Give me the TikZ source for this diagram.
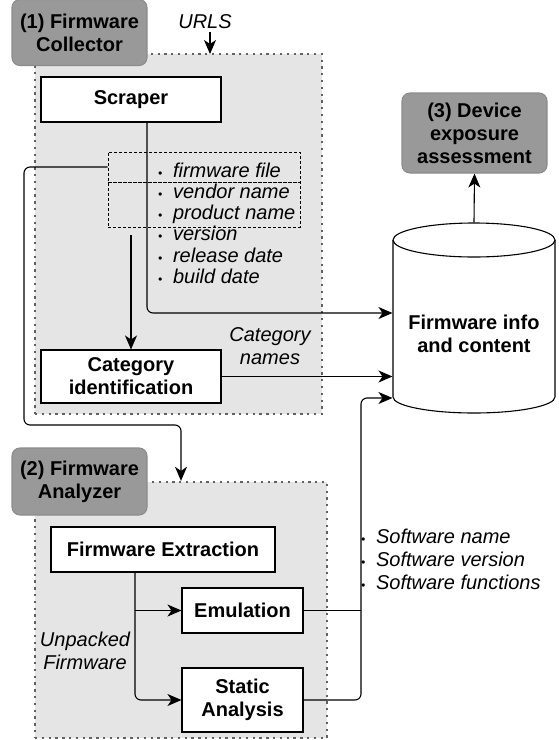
\documentclass[tikz,border=0pt]{standalone}
\usepackage{fontspec}
\setmainfont{Liberation Sans}
\usetikzlibrary{arrows.meta,positioning}

\newcommand{\blt}{\makebox[15pt][l]{\fontsize{12}{12}\selectfont\textbullet}}

\begin{document}
\begin{tikzpicture}[
    x = 1pt, y = -1pt, % pixel grid, y runs downwards
    > = {Stealth[length=14pt,width=12pt,inset=4pt]}, % arrow head style
    font = \fontsize{20}{23}\selectfont,
    line width = 1.1pt % line style
    ]

    \tikzset{
    group/.style = {draw = black!62, fill = black!10, line width = 2.3pt,
        dash pattern = on 2.3pt off 4.5pt, inner sep = 0pt},
    tag/.style = {fill = black!40, draw = black!45, rounded corners = 8pt,
        align = center, inner sep = 0pt,
        font = \fontsize{20}{23}\selectfont\bfseries},
    box/.style = {draw, fill = white, align = center, inner sep = 0pt,
        font = \fontsize{20}{23}\selectfont\bfseries},
    dbox/.style = {draw, line width = 0.9pt, dash pattern = on 3pt off 2pt,
        inner sep = 0pt},
    note/.style = {align = center, font = \fontsize{20}{23}\selectfont\itshape},
    conn/.style = {->, rounded corners = 6pt}
    }

    \useasboundingbox (0,0) rectangle (559,740);

    % (1) collector
    \node[group, minimum width = 287pt, minimum height = 360pt] (col) at (178.5,234) {};
    \node[tag, minimum width = 135pt, minimum height = 66pt] (coltag) at (79.5,32.5)
        {(1) Firmware\\Collector};
    \node[note, anchor = base] (urls) at (205,28) {URLS};
    \coordinate (urlin) at (210,54);
    \node[box, minimum width = 180pt, minimum height = 45pt] (scraper) at (131,99.5) {Scraper};
    \node[dbox, minimum width = 192pt, minimum height = 30pt] (ff) at (204,167) {};
    \node[dbox, minimum width = 192pt, minimum height = 45pt] (vp) at (204,204.5) {};
    \foreach \t [count = \i] in {firmware file, vendor name, product name,
        version, release date, build date}
        \node[note, anchor = base west, inner sep = 0pt] (meta\i)
            at (157.5, 156.5 + 21.1*\i) {\blt\t};
    \node[box, minimum width = 180pt, minimum height = 53pt] (cat) at (131,376.5)
        {Category\\identification};
    \node[note] (catnames) at (270,346.5) {Category\\names};

    % database
    \node[minimum width = 162pt, minimum height = 190pt, inner sep = 0pt] (db) at (474,318) {};
    \draw[fill = white] (393,240) -- (393,397)
        .. controls (393,405.8) and (429.3,413) .. (474,413)
        .. controls (518.7,413) and (555,405.8) .. (555,397) -- (555,240);
    \draw[fill = white] (474,240) ellipse [x radius = 81pt, y radius = 17pt];
    \node[box, draw = none, fill = none] (dbtxt) at (474,334) {Firmware info\\and content};
    \node[tag, minimum width = 145pt, minimum height = 80pt] (assess) at (474.5,133)
        {(3) Device\\exposure\\assessment};

    % (2) analyzer
    \node[group, minimum width = 292pt, minimum height = 256pt] (ana) at (181,610) {};
    \node[tag, minimum width = 135pt, minimum height = 67pt] (anatag) at (79.5,481.5)
        {(2) Firmware\\Analyzer};
    \node[box, minimum width = 224pt, minimum height = 45pt] (fx) at (163,549.5)
        {Firmware Extraction};
    \node[box, minimum width = 121pt, minimum height = 45pt] (emu) at (242.5,610.5) {Emulation};
    \node[box, minimum width = 121pt, minimum height = 64pt] (static) at (242.5,700)
        {Static\\Analysis};
    \node[note] (unpacked) at (85,651) {Unpacked\\Firmware};
    \foreach \t [count = \i] in {Software name, Software version, Software functions}
        \node[note, anchor = base west, inner sep = 0pt] (sw\i)
            at (360.5, 520 + 23*\i) {\blt\t};
    \coordinate (bend) at (24,425);
    \coordinate (sw) at (361,398);

    % connectors
    \draw[->] (urls.south -| urlin) -- (urlin);
    \draw[conn] ([xshift = 16pt]scraper.south) |- ([yshift = 5pt]db.west);
    \draw[conn] (ff.west) -| (bend) -| (ana.north);
    \draw[->, shorten <= 8pt] (cat.north |- vp.south) -- (cat.north);
    \draw[->] (cat.east) -- (cat.east -| db.west);
    \draw[->] (db.north) -- (assess.south);
    \draw[conn] ([xshift = -28pt]fx.south) |- (static.west);
    \draw[->] ([xshift = -28pt]fx.south |- emu.west) -- (emu.west);
    \draw (emu.east) -- (emu.east -| sw);
    \draw[conn] (static.east) -| (sw) -- (sw -| db.west);
\end{tikzpicture}
\end{document}
